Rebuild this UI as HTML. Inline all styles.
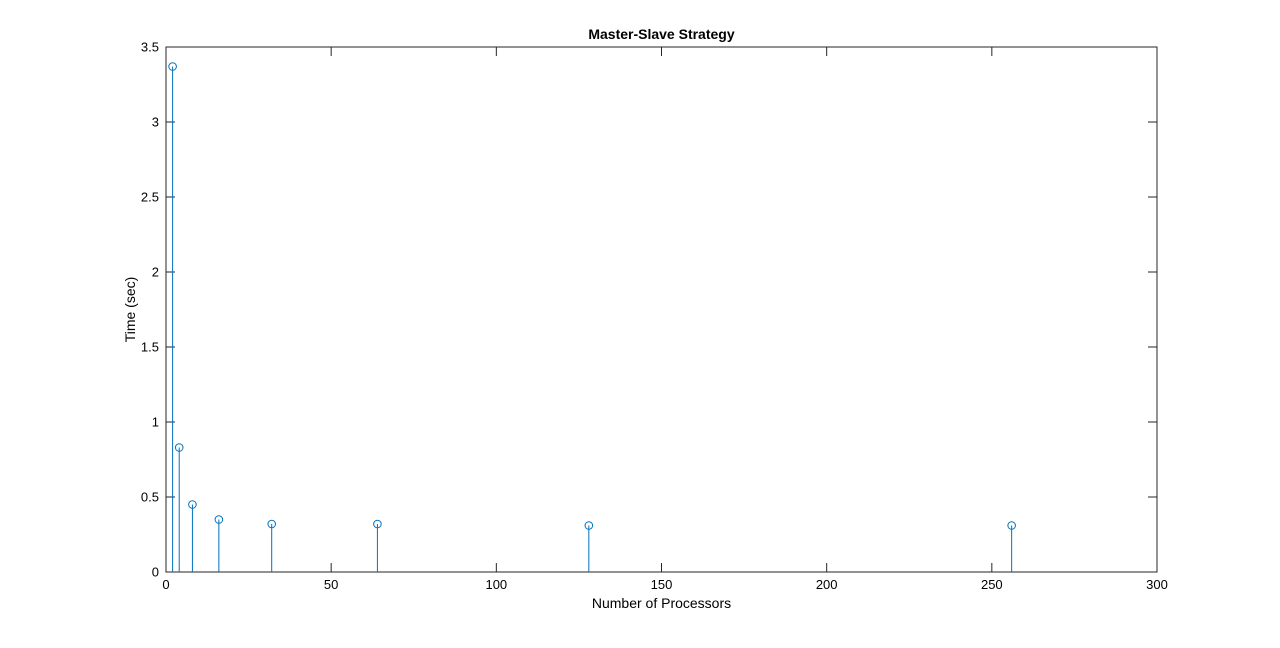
<!DOCTYPE html>
<html><head><meta charset="utf-8"><style>
body{margin:0;background:#fff;}
svg text{font-family:"Liberation Sans",Arial,sans-serif;fill:#000;}
</style></head><body>
<svg id="chart" width="1280" height="643" xmlns="http://www.w3.org/2000/svg">
<rect width="1280" height="643" fill="#fff"/>
<g id="axes"></g>
<g id="marks"></g>
</svg>
<script>
const categories=[2,4,8,16,32,64,128,256];
const times=[3.37,0.83,0.45,0.35,0.32,0.32,0.31,0.31];
const xTicks=[0,50,100,150,200,250,300];
const yTicks=[0,0.5,1,1.5,2,2.5,3,3.5];
const yTickLabels=["0","0.5","1","1.5","2","2.5","3","3.5"];
const L=166,R=1157,T=47,B=572;
const xs=v=>L+(v-0)/(300-0)*(R-L);
const ys=v=>B-(v-0)/(3.5-0)*(B-T);
const NS="http://www.w3.org/2000/svg";
function mk(tag,attrs,parent){const e=document.createElementNS(NS,tag);for(const k in attrs)e.setAttribute(k,attrs[k]);parent.appendChild(e);return e;}
const ax=document.getElementById('axes'),mg=document.getElementById('marks');
const box=mk('rect',{x:L,y:T,width:R-L,height:B-T,fill:'none',stroke:'#262626','stroke-width':1},ax);


xTicks.forEach(t=>{const x=xs(t);
 mk('line',{x1:x,x2:x,y1:B,y2:B-9,stroke:'#262626'},ax);
 mk('line',{x1:x,x2:x,y1:T,y2:T+9,stroke:'#262626'},ax);
 const tx=mk('text',{x:x,y:B+17,'text-anchor':'middle','font-size':13},ax);tx.textContent=t;
 
 
});
yTicks.forEach((t,i)=>{const y=ys(t);
 mk('line',{x1:L,x2:L+9,y1:y,y2:y,stroke:'#262626'},ax);
 mk('line',{x1:R,x2:R-9,y1:y,y2:y,stroke:'#262626'},ax);
 const tx=mk('text',{x:L-7,y:y+4.5,'text-anchor':'end','font-size':13},ax);tx.textContent=yTickLabels[i];
 
 
});
const title=mk('text',{x:(L+R)/2,y:39,'text-anchor':'middle','font-size':14,'font-weight':'bold'},ax);title.textContent='Master-Slave Strategy';


const xl=mk('text',{x:(L+R)/2,y:608,'text-anchor':'middle','font-size':14},ax);xl.textContent='Number of Processors';


const yl=mk('text',{x:0,y:0,'text-anchor':'middle','font-size':14,transform:`translate(135,${(T+B)/2}) rotate(-90)`},ax);yl.textContent='Time (sec)';


categories.forEach((c,i)=>{const x=xs(c),y=ys(times[i]);
 const ln=mk('line',{x1:x,x2:x,y1:B,y2:y,stroke:'#0072bd','stroke-width':1},mg);
 
 
 const ci=mk('circle',{cx:x,cy:y,r:3.8,fill:'none',stroke:'#0072bd','stroke-width':1},mg);
 
 
});
</script>
</body></html>
